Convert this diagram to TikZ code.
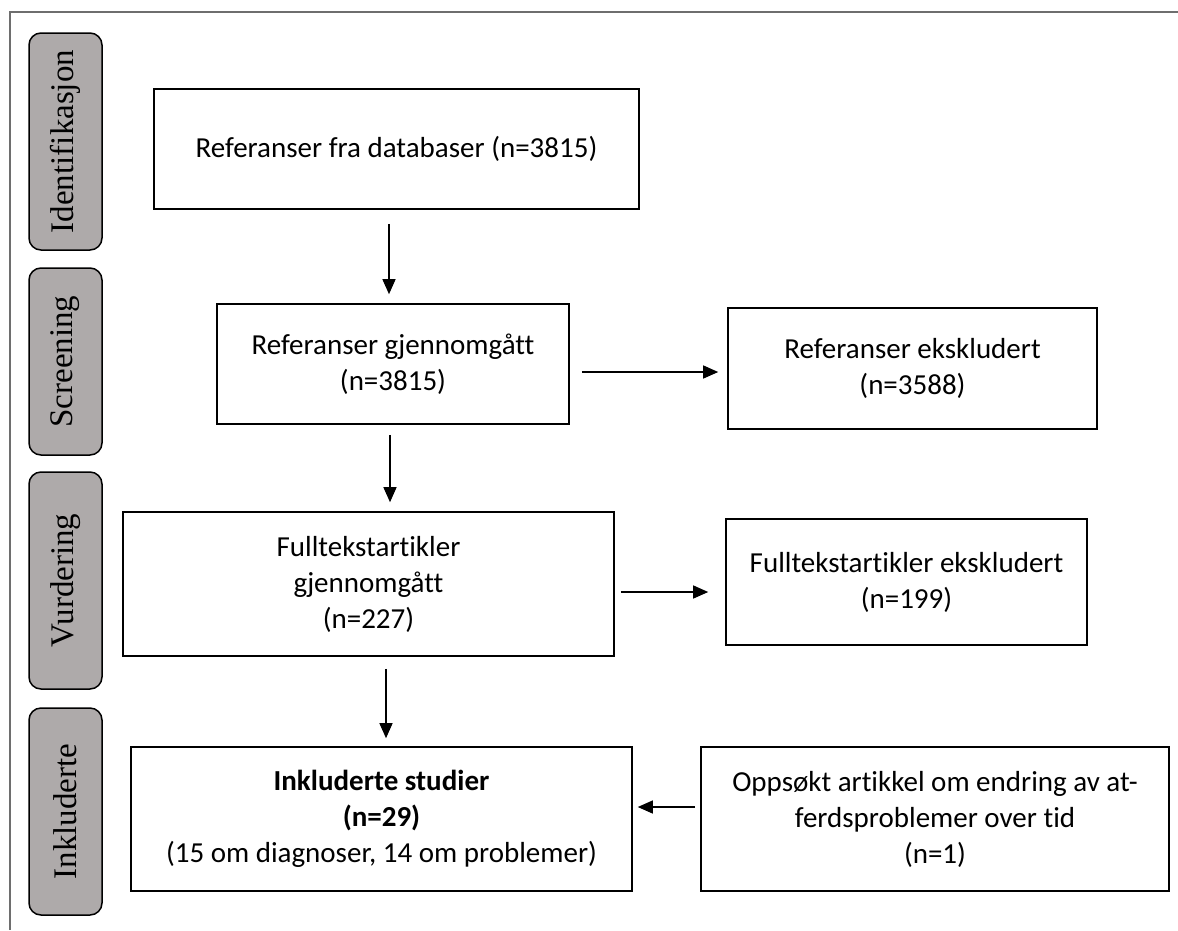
\documentclass[tikz,border=0pt]{standalone}
\usepackage{fontspec}
\setmainfont{Carlito}[Ligatures={NoCommon,NoContextual}]
\newfontfamily\labelfont{Liberation Serif}
\usetikzlibrary{arrows.meta}
\definecolor{phasegray}{RGB}{174,170,170}
\definecolor{framegray}{RGB}{110,110,110}
\tikzset{
  flowbox/.style={draw=black, line width=1.6pt, rectangle, align=center, inner sep=0pt,
    font=\fontsize{29}{36}\selectfont},
  phasebox/.style={draw=black, line width=1.5pt, fill=phasegray, rounded corners=12pt,
    rotate=90, minimum height=73pt, inner sep=0pt, font=\labelfont\fontsize{33}{36}\selectfont},
  arr/.style={line width=1.3pt, -{Triangle[length=15pt,width=13pt]}},
}
\begin{document}
\begin{tikzpicture}[x=1pt,y=-1pt]
\useasboundingbox (0,0) rectangle (1178,930);
% frame
\draw[framegray, line width=1.4pt] (10,930) -- (10,12) -- (1178,12);
% phase labels
\node[phasebox, minimum width=217pt] (p1) at (65.5,141.5) {Identifikasjon};
\node[phasebox, minimum width=187pt] (p2) at (65.5,361.5) {Screening};
\node[phasebox, minimum width=217pt] (p3) at (65.5,580.5) {Vurdering};
\node[phasebox, minimum width=207pt] (p4) at (65.5,811.5) {Inkluderte};
% boxes
\node[flowbox, minimum width=485pt, minimum height=120pt] (b1) at (396.5,149) {Referanser fra databaser (n=3815)};
\node[flowbox, minimum width=352pt, minimum height=120pt] (b2) at (393,364) {Referanser gjennomgått\\(n=3815)};
\node[flowbox, minimum width=369pt, minimum height=121pt] (b3) at (912.5,368.5) {Referanser ekskludert\\(n=3588)};
\node[flowbox, minimum width=491pt, minimum height=144pt] (b4) at (368.5,584) {Fulltekstartikler\\gjennomgått\\(n=227)};
\node[flowbox, minimum width=361pt, minimum height=126pt] (b5) at (906.5,582) {Fulltekstartikler ekskludert\\(n=199)};
\node[flowbox, minimum width=501pt, minimum height=144pt] (b6) at (381.5,819) {\textbf{Inkluderte studier}\\\textbf{(n=29)}\\(15 om diagnoser, 14 om problemer)};
\node[flowbox, minimum width=468pt, minimum height=144pt] (b7) at (935,819) {Oppsøkt artikkel om endring av at-\\ferdsproblemer over tid\\(n=1)};
% arrow guide coordinates
\coordinate (c1) at (389,0);
\coordinate (c2) at (390,0);
\coordinate (c3) at (386,0);
\coordinate (r1) at (0,372);
\coordinate (r2) at (0,592);
\coordinate (r3) at (0,807);
% connectors
\draw[arr, shorten <=14pt, shorten >=9pt] (b1.south -| c1) -- (b2.north -| c1);
\draw[arr, shorten <=10pt, shorten >=9pt] (b2.south -| c2) -- (b4.north -| c2);
\draw[arr, shorten <=12pt, shorten >=8pt] (b4.south -| c3) -- (b6.north -| c3);
\draw[arr, shorten <=12pt, shorten >=9pt] (b2.east |- r1) -- (b3.west |- r1);
\draw[arr, shorten <=6pt, shorten >=17pt] (b4.east |- r2) -- (b5.west |- r2);
\draw[arr, shorten <=5pt, shorten >=5pt] (b7.west |- r3) -- (b6.east |- r3);
\end{tikzpicture}
\end{document}
